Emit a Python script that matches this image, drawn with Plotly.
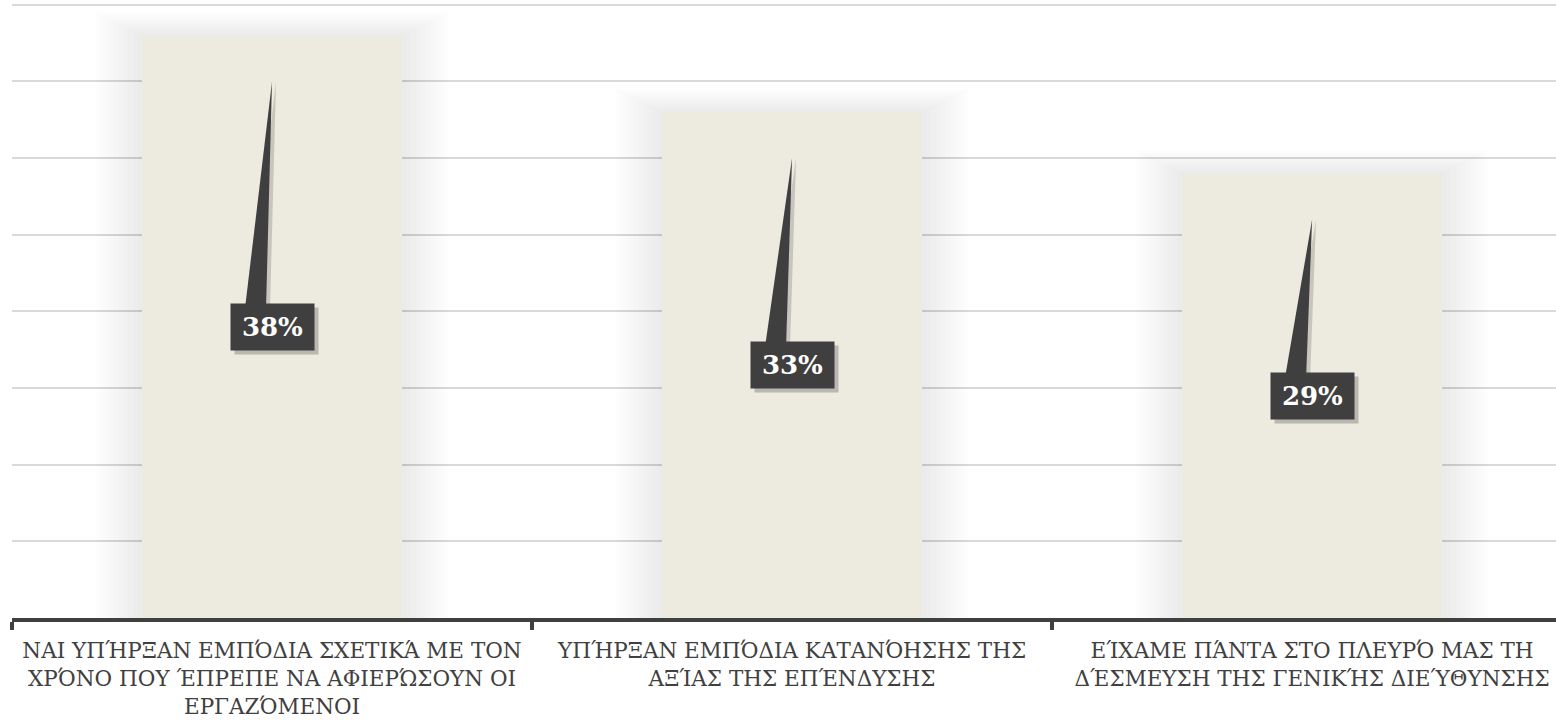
import plotly.graph_objects as go

categories = [
    "ΝΑΙ ΥΠΉΡΞΑΝ ΕΜΠΌΔΙΑ ΣΧΕΤΙΚΆ ΜΕ ΤΟΝ<br>ΧΡΌΝΟ ΠΟΥ ΈΠΡΕΠΕ ΝΑ ΑΦΙΕΡΏΣΟΥΝ ΟΙ<br>ΕΡΓΑΖΌΜΕΝΟΙ",
    "ΥΠΉΡΞΑΝ ΕΜΠΌΔΙΑ ΚΑΤΑΝΌΗΣΗΣ ΤΗΣ<br>ΑΞΊΑΣ ΤΗΣ ΕΠΈΝΔΥΣΗΣ",
    "ΕΊΧΑΜΕ ΠΆΝΤΑ ΣΤΟ ΠΛΕΥΡΌ ΜΑΣ ΤΗ<br>ΔΈΣΜΕΥΣΗ ΤΗΣ ΓΕΝΙΚΉΣ ΔΙΕΎΘΥΝΣΗΣ",
]
values = [38, 33, 29]
labels = ["38%", "33%", "29%"]
grid_values = [5, 10, 15, 20, 25, 30, 35, 40]

BAR_COLOR = "#EDEBE0"
DARK = "#3F3F3F"

fig = go.Figure()
fig.add_trace(go.Bar(
    x=categories, y=values, width=0.5,
    marker=dict(color=BAR_COLOR, line=dict(width=0)),
    hoverinfo="skip",
))

shapes = []
annotations = []
for i, v in enumerate(values):
    # soft shadow around bar
    for k in range(1, 11):
        shapes.append(dict(
            type="rect", xref="x", yref="y", layer="between",
            x0=i - 0.25 - k * 0.009, x1=i + 0.25 + k * 0.009,
            y0=0, y1=v + k * 0.15,
            fillcolor="rgba(0,0,0,0.008)", line=dict(width=0),
        ))
    # callout wedge (shadow + wedge)
    base_y = v / 2 + 1.2
    tip_y = v - 3
    for dx, col in ((4, "rgba(0,0,0,0.16)"), (0, DARK)):
        shapes.append(dict(
            type="path", xref="x", yref="y", xsizemode="pixel", xanchor=i,
            path=f"M {-27 + dx},{base_y} L {0 + dx},{tip_y} L {-6 + dx},{base_y} Z",
            fillcolor=col, line=dict(width=0), layer="above",
        ))
    # box shadow
    annotations.append(dict(
        x=i, y=v / 2, xref="x", yref="y", text=" ", showarrow=False,
        font=dict(family="DejaVu Serif", size=25, color="rgba(0,0,0,0)"),
        bgcolor="rgba(0,0,0,0.22)", width=75, height=38, borderpad=4,
        xshift=4, yshift=-4,
    ))
    # box
    annotations.append(dict(
        x=i, y=v / 2, xref="x", yref="y", text=f"<b>{labels[i]}</b>", showarrow=False,
        font=dict(family="DejaVu Serif", size=26, color="#FFFFFF"),
        bgcolor=DARK, width=75, height=38, borderpad=4,
    ))

fig.update_layout(
    width=1556, height=723,
    margin=dict(l=12, r=0, t=1, b=105),
    paper_bgcolor="white", plot_bgcolor="white",
    showlegend=False, barmode="overlay",
    shapes=shapes, annotations=annotations,
    xaxis=dict(
        type="category", range=[-0.5, 2.469], tickson="boundaries",
        showline=True, linecolor="#404040", linewidth=4,
        ticks="outside", ticklen=8, tickwidth=4, tickcolor="#404040",
        ticklabelstandoff=10,
        tickfont=dict(family="DejaVu Serif", size=21.5, color="#404040"),
        showgrid=False, fixedrange=True,
    ),
    yaxis=dict(
        range=[0, 40.25], tickvals=grid_values,
        showgrid=True, gridcolor="#D9D9D9", gridwidth=2,
        showticklabels=False, zeroline=False, showline=False, fixedrange=True,
    ),
)

fig.write_html("out.html")
